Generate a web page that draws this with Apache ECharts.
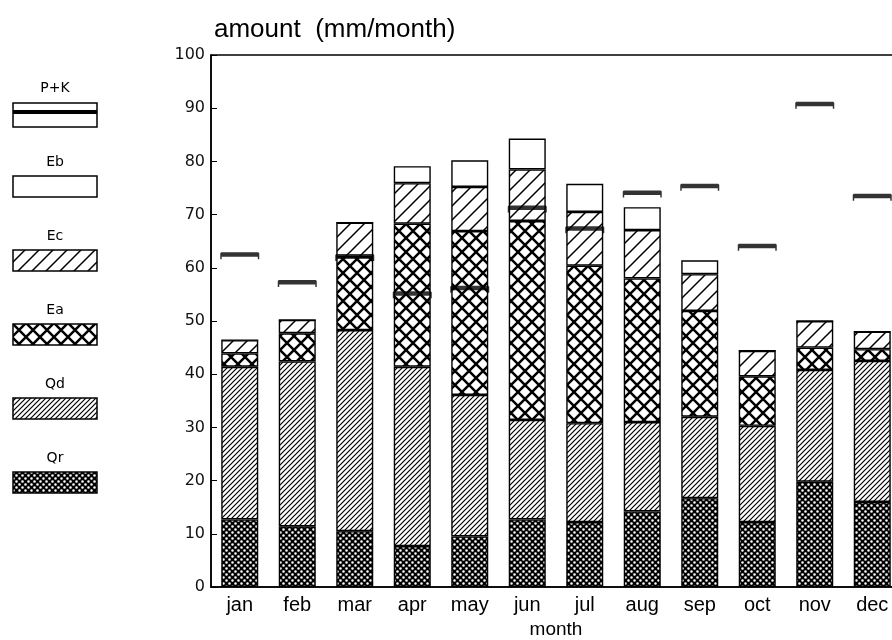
<!DOCTYPE html>
<html>
<head>
<meta charset="utf-8">
<title>amount (mm/month)</title>
<script src="https://cdn.jsdelivr.net/npm/echarts@6/dist/echarts.min.js"></script>
<style>
    html, body {margin: 0; padding: 0; background: #fff;}
    #main {width: 892px; height: 640px;}
</style>
</head>
<body>
<div id="main"></div>
<script>
//months and stacked components (mm/month)
var months = ['jan', 'feb', 'mar', 'apr', 'may', 'jun', 'jul', 'aug', 'sep', 'oct', 'nov', 'dec'];
var qr = [12.7, 11.4, 10.5, 7.7, 9.5, 12.7, 12.2, 14.2, 16.7, 12.2, 19.8, 16.0];
var qd = [28.7, 31.0, 37.8, 33.7, 26.6, 18.7, 18.6, 16.8, 15.3, 18.1, 21.0, 26.5];
var ea = [2.5, 5.3, 13.7, 26.9, 30.8, 37.4, 29.6, 27.0, 19.9, 9.3, 4.2, 2.2];
var ec = [2.5, 2.5, 6.5, 7.6, 8.3, 9.7, 10.1, 9.1, 6.9, 4.8, 5.0, 3.3];
var eb = [0, 0, 0, 3.2, 5.0, 5.8, 5.3, 4.3, 2.6, 0, 0, 0];
//P+K, drawn as a bar marker
var pk = [62.5, 57.3, 62.2, 55.2, 56.2, 71.3, 67.4, 74.1, 75.4, 64.1, 90.8, 73.5];
var legendNames = ['P+K', 'Eb', 'Ec', 'Ea', 'Qd', 'Qr'];

var chart = echarts.init(document.getElementById('main'));

//canvas fill patterns
function newTile(size, bg) {
    var c = document.createElement('canvas');
    c.width = size;
    c.height = size;
    var ctx = c.getContext('2d');
    ctx.fillStyle = bg;
    ctx.fillRect(0, 0, size, size);
    return c;
}
function hatch(size, lw) {
    var c = newTile(size, '#fff');
    var ctx = c.getContext('2d');
    ctx.strokeStyle = '#000';
    ctx.lineWidth = lw;
    ctx.beginPath();
    ctx.moveTo(-1, size + 1); ctx.lineTo(size + 1, -1);
    ctx.moveTo(-2, 2); ctx.lineTo(2, -2);
    ctx.moveTo(size - 2, size + 2); ctx.lineTo(size + 2, size - 2);
    ctx.stroke();
    return c;
}
function cross(size, lw) {
    var c = newTile(size, '#fff');
    var ctx = c.getContext('2d');
    ctx.strokeStyle = '#000';
    ctx.lineWidth = lw;
    ctx.beginPath();
    ctx.moveTo(-1, size + 1); ctx.lineTo(size + 1, -1);
    ctx.moveTo(-1, -1); ctx.lineTo(size + 1, size + 1);
    ctx.stroke();
    return c;
}
function dots(size, r) {
    var c = newTile(size, '#000');
    var ctx = c.getContext('2d');
    ctx.fillStyle = '#fff';
    ctx.beginPath();
    ctx.arc(size / 4, size / 4, r, 0, Math.PI * 2);
    ctx.closePath();
    ctx.arc(size * 3 / 4, size * 3 / 4, r, 0, Math.PI * 2);
    ctx.fill();
    return c;
}

var tiles = {
    'Ec': hatch(14, 1.5),
    'Ea': cross(14, 2.5),
    'Qd': hatch(5, 1.2),
    'Qr': dots(6, 1.3)
};
function fillOf(name) {
    if (!tiles[name]) {
        return '#fff';
    }
    return {image: tiles[name], repeat: 'repeat'};
}

//legend swatch as a data url (graphic elements don't like canvas objects)
function swatch(name) {
    var c = document.createElement('canvas');
    c.width = 86;
    c.height = 26;
    var ctx = c.getContext('2d');
    if (name == 'P+K') {
        ctx.fillStyle = '#fff';
        ctx.fillRect(1, 1, 84, 24);
        ctx.fillStyle = '#000';
        ctx.fillRect(1, 8, 84, 4);
        ctx.strokeStyle = '#000';
        ctx.lineWidth = 1.5;
        ctx.strokeRect(1, 1, 84, 24);
    } else {
        ctx.fillStyle = tiles[name] ? ctx.createPattern(tiles[name], 'repeat') : '#fff';
        ctx.fillRect(1, 1, 84, 21);
        ctx.strokeStyle = '#000';
        ctx.lineWidth = 1.5;
        ctx.strokeRect(1, 1, 84, 21);
    }
    return c.toDataURL();
}

function barSeries(name, data) {
    return {
        name: name,
        type: 'bar',
        stack: 'total',
        barWidth: 37,
        data: data,
        itemStyle: {
            color: fillOf(name),
            borderColor: '#000',
            borderWidth: 1.4
        }
    };
}

//legend on the left, label above each swatch
var legendItems = [];
for (var i = 0; i < legendNames.length; i++) {
    var boxTop = 103 + i * 74;
    legendItems.push({
        type: 'text',
        style: {
            x: 55,
            y: boxTop - 15,
            text: legendNames[i],
            fill: '#000',
            font: '14px "DejaVu Sans"',
            align: 'center',
            verticalAlign: 'middle'
        }
    });
    legendItems.push({
        type: 'image',
        style: {
            image: swatch(legendNames[i]),
            x: 12,
            y: i == 0 ? boxTop - 1 : boxTop - 2,
            width: 86,
            height: 26
        }
    });
}

var option = {
    backgroundColor: '#fff',
    animation: false,
    title: {
        text: 'amount  (mm/month)',
        left: 209,
        top: 12,
        textStyle: {
            color: '#000',
            fontSize: 26,
            fontWeight: 'normal',
            fontFamily: 'Liberation Sans, Arial, sans-serif'
        }
    },
    grid: {
        left: 211,
        right: -9,
        top: 55,
        bottom: 53,
        outerBoundsMode: 'none',
        show: true,
        borderColor: '#000',
        borderWidth: 1.5
    },
    xAxis: {
        type: 'category',
        data: months,
        name: 'month',
        nameLocation: 'middle',
        nameGap: 29,
        nameTextStyle: {color: '#000', fontSize: 19, fontFamily: 'Liberation Sans, Arial, sans-serif'},
        axisLine: {lineStyle: {color: '#000', width: 1.5}},
        axisTick: {show: false},
        axisLabel: {color: '#000', fontSize: 20, margin: 8, fontFamily: 'Liberation Sans, Arial, sans-serif'}
    },
    yAxis: {
        type: 'value',
        min: 0,
        max: 100,
        interval: 10,
        splitLine: {show: false},
        axisLine: {show: true, lineStyle: {color: '#000', width: 1.5}},
        axisTick: {show: true, inside: true, length: 6, lineStyle: {color: '#000'}},
        axisLabel: {color: '#111', fontSize: 16, margin: 6, padding: [0, 0, 6, 0], fontFamily: 'DejaVu Sans'}
    },
    graphic: legendItems,
    series: [
        barSeries('Qr', qr),
        barSeries('Qd', qd),
        barSeries('Ea', ea),
        barSeries('Ec', ec),
        barSeries('Eb', eb),
        {
            name: 'P+K',
            type: 'scatter',
            data: pk,
            z: 5,
            symbol: 'path://M0,7 L0,1 L1,0 L39,0 L40,1 L40,7 L38.5,7 L38.5,4.5 L1.5,4.5 L1.5,7 Z',
            symbolSize: [39, 7],
            symbolOffset: [0, 1.3],
            itemStyle: {color: '#000'}
        }
    ]
};
chart.setOption(option);
</script>
</body>
</html>
